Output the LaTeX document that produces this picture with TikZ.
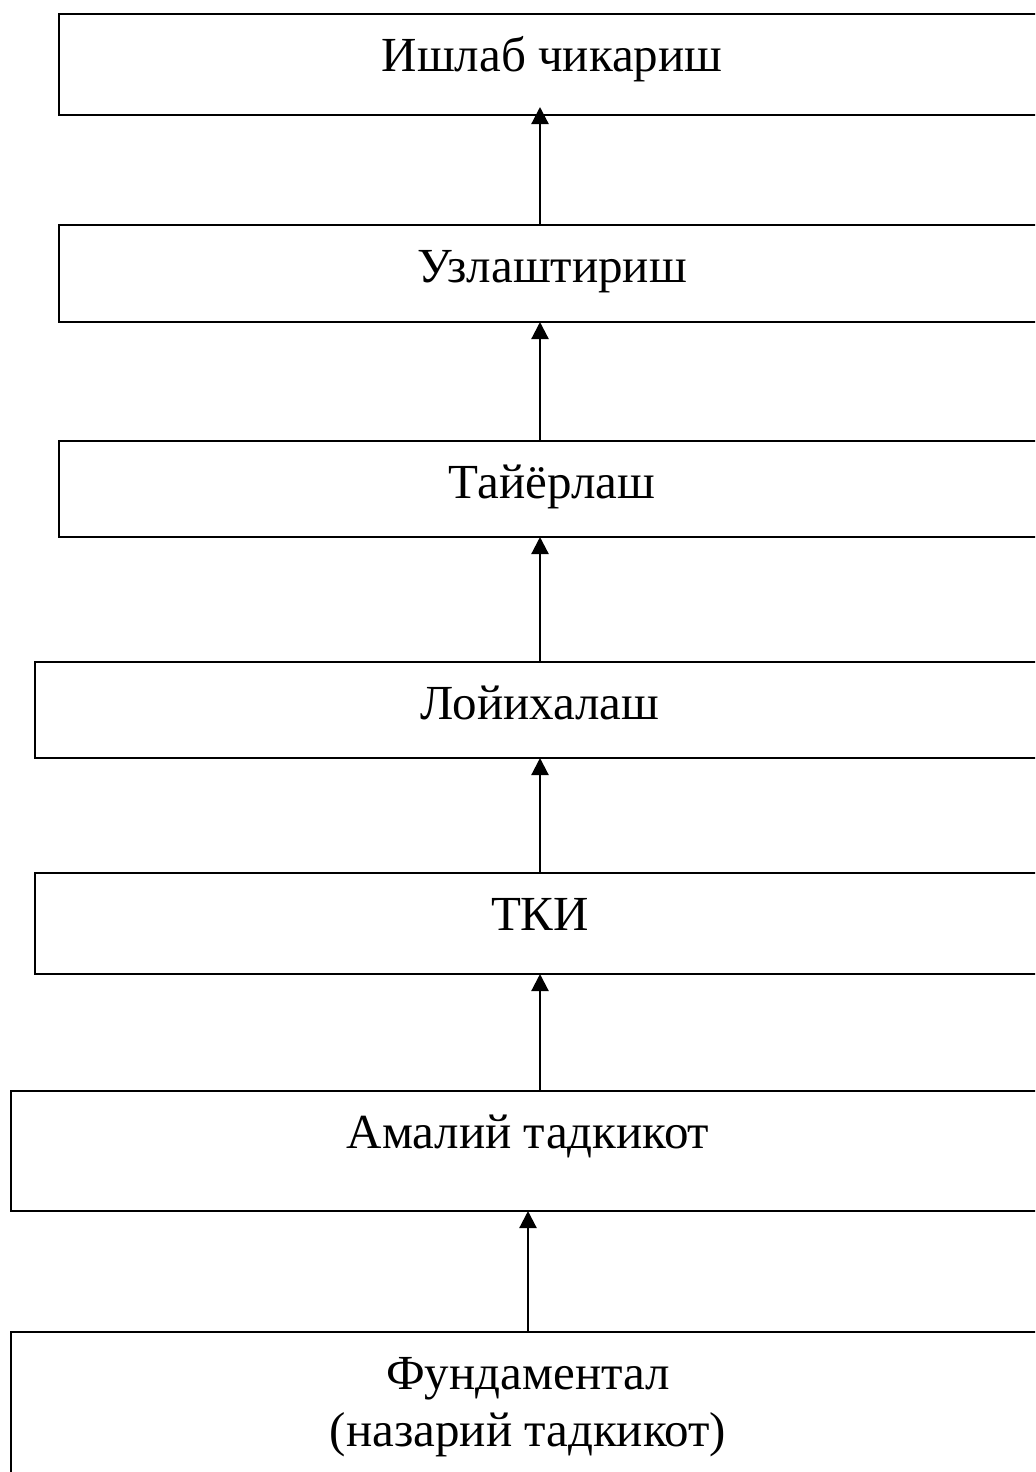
\documentclass[tikz,border=0pt]{standalone}
\usepackage{fontspec}
\setmainfont{Liberation Serif}
\usetikzlibrary{arrows.meta,calc}
\begin{document}
\begin{tikzpicture}[x=0.5pt,y=-0.5pt,
  stagebox/.style={draw, line width=1.1pt, inner sep=0pt, outer sep=0pt, anchor=north west},
  lbl/.style={font=\fontsize{24.5}{29}\selectfont, inner sep=0pt, anchor=base},
  uparrow/.style={line width=1.1pt, -{Triangle[length=8.5pt,width=8.5pt]}}]
\useasboundingbox (0,0) rectangle (1035,1472);
\clip (0,0) rectangle (1035,1472);
\fill[white] (0,0) rectangle (1035,1472);
% boxes
\node[stagebox, minimum width=493pt, minimum height=50.5pt] (b1) at (59,14) {};
\node[stagebox, minimum width=493pt, minimum height=48.5pt] (b2) at (59,225) {};
\node[stagebox, minimum width=493pt, minimum height=48pt] (b3) at (59,441) {};
\node[stagebox, minimum width=505pt, minimum height=48pt] (b4) at (35,662) {};
\node[stagebox, minimum width=505pt, minimum height=50.5pt] (b5) at (35,873) {};
\node[stagebox, minimum width=517pt, minimum height=60pt] (b6) at (11,1091) {};
\node[stagebox, minimum width=517pt, minimum height=80pt] (b7) at (11,1332) {};
% labels
\node[lbl] (t1) at ($(b1.north)+(0,57)$) {Ишлаб чикариш};
\node[lbl] (t2) at ($(b2.north)+(0,57)$) {Узлаштириш};
\node[lbl] (t3) at ($(b3.north)+(0,57)$) {Тайёрлаш};
\node[lbl] (t4) at ($(b4.north)+(0,57)$) {Лойихалаш};
\node[lbl] (t5) at ($(b5.north)+(0,57)$) {ТКИ};
\node[lbl] (t6) at ($(b6.north)+(0,57)$) {Амалий тадкикот};
\node[lbl] (t7a) at ($(b7.north)+(0,57)$) {Фундаментал};
\node[lbl] (t7b) at ($(b7.north)+(0,114)$) {(назарий тадкикот)};
% arrows
\coordinate (ax) at (540,0);
\coordinate (bx) at (528,0);
\draw[uparrow, shorten >=-4pt] (b2.north -| ax) -- (b1.south -| ax);
\draw[uparrow] (b3.north -| ax) -- (b2.south -| ax);
\draw[uparrow] (b4.north -| ax) -- (b3.south -| ax);
\draw[uparrow] (b5.north -| ax) -- (b4.south -| ax);
\draw[uparrow] (b6.north -| ax) -- (b5.south -| ax);
\draw[uparrow] (b7.north -| bx) -- (b6.south -| bx);
\end{tikzpicture}
\end{document}
